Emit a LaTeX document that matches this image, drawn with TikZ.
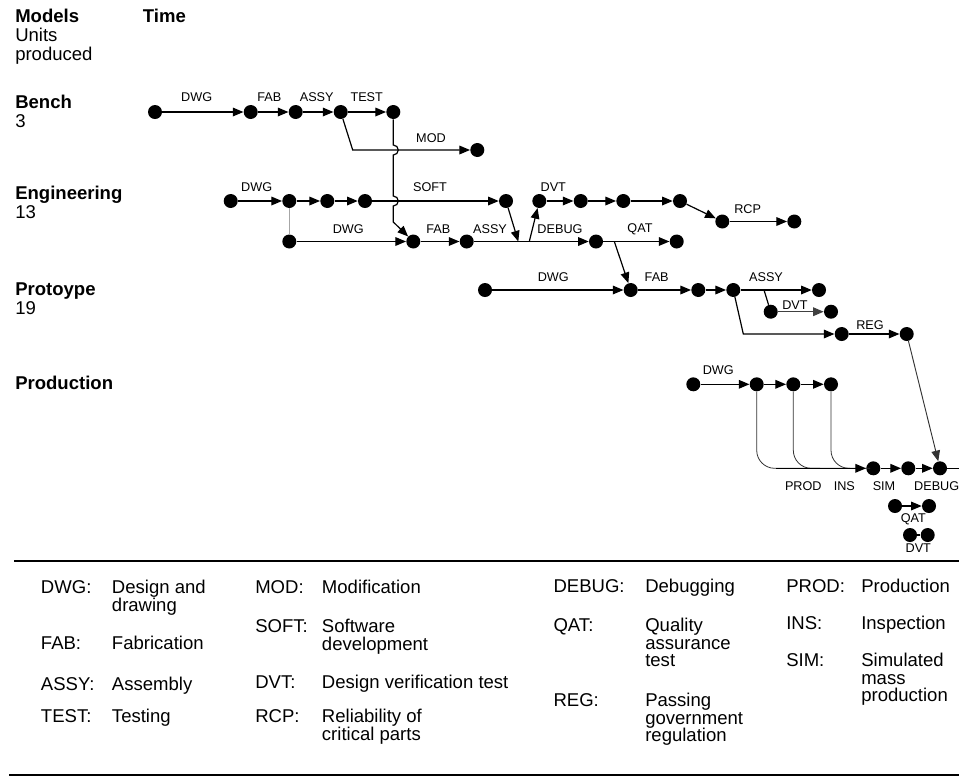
\documentclass[tikz,border=0pt]{standalone}
\usepackage{fontspec}
\setmainfont{Liberation Sans}
\usetikzlibrary{arrows.meta}
\begin{document}
\begin{tikzpicture}[x=0.75pt,y=-0.75pt,
  dot/.style={circle,fill=black,inner sep=0pt,minimum size=10.5pt},
  ln/.style={line width=0.9pt,black},
  arr/.style={ln,-{Triangle[length=8pt,width=6.5pt]}},
  thinln/.style={line width=0.6pt,black!80},
  lbl/.style={font=\fontsize{9.5}{11}\selectfont,inner sep=0pt},
  hdr/.style={font=\fontsize{13.9}{14.2}\selectfont,anchor=base west,align=left,inner sep=0pt},
  leg/.style={font=\fontsize{13.9}{13.2}\selectfont,anchor=base west,align=left,inner sep=0pt},
]
\useasboundingbox (0,0) rectangle (959,776);

% ---------- left headings (base = last line) ----------
\node[hdr] (hModels) at (15,60.5) {\textbf{Models}\\Units\\produced};
\node[hdr] (hTime) at (142.7,22.6) {\textbf{Time}};
\node[hdr] (hBench) at (15,127.2) {\textbf{Bench}\\3};
\node[hdr] (hEng) at (15,218.9) {\textbf{Engineering}\\13};
\node[hdr] (hProto) at (15,314.9) {\textbf{Protoype}\\19};
\node[hdr] (hProd) at (15,389.6) {\textbf{Production}};

% ---------- Bench ----------
\node[dot] (b1) at (155,112) {};
\node[dot] (b2) at (250.7,112) {};
\node[dot] (b3) at (295.7,112) {};
\node[dot] (b4) at (340.7,112) {};
\node[dot] (b5) at (393.3,112) {};
\node[dot] (b6) at (477.3,150) {};
\coordinate (m1) at (352.7,150);
\draw[arr] (b1) -- (b2);
\draw[arr] (b2) -- (b3);
\draw[arr] (b3) -- (b4);
\draw[arr] (b4) -- (b5);
\draw[arr] (b4) -- (m1) -- (b6);
\node[lbl] (lb1) at (196.7,97.3) {DWG};
\node[lbl] (lb2) at (269.3,97.3) {FAB};
\node[lbl] (lb3) at (316.7,97.3) {ASSY};
\node[lbl] (lb4) at (366.7,97.3) {TEST};
\node[lbl] (lb5) at (431,138.3) {MOD};

% ---------- Engineering ----------
\node[dot] (ea1) at (230.7,201) {};
\node[dot] (ea2) at (289.3,201) {};
\node[dot] (ea3) at (327.3,201) {};
\node[dot] (ea4) at (365,201) {};
\node[dot] (es) at (506,201) {};
\node[dot] (ed1) at (539.3,201) {};
\node[dot] (ed2) at (580.7,201) {};
\node[dot] (ed3) at (623.3,201) {};
\node[dot] (ed4) at (680,201) {};
\node[dot] (er1) at (722.3,221.5) {};
\node[dot] (er2) at (794.3,221.5) {};
\node[dot] (el1) at (289.3,241.5) {};
\node[dot] (ef1) at (413.3,241.5) {};
\node[dot] (ef2) at (466.7,241.5) {};
\node[dot] (edb) at (596,241.5) {};
\node[dot] (eq) at (676.7,241.5) {};
\coordinate (j1) at (518.3,241.5);
\coordinate (j2) at (529.3,241.5);
\coordinate (j3) at (614.3,241.5);
\coordinate (h1) at (393.3,145);
\coordinate (h2) at (393.3,196);
\coordinate (h3) at (393.3,222);

\draw[arr] (ea1) -- (ea2);
\draw[arr] (ea2) -- (ea3);
\draw[arr] (ea3) -- (ea4);
\draw[arr] (ea4) -- (es);
\draw[arr] (ed1) -- (ed2);
\draw[arr] (ed2) -- (ed3);
\draw[arr] (ed3) -- (ed4);
\draw[arr] (ed4) -- (er1);
\draw[arr] (er1) -- (er2);
\draw[line width=0.6pt,black!35] (ea2) -- (el1);
\draw[arr] (el1) -- (ef1);
\draw[arr] (ef1) -- (ef2);
\draw[arr] (ef2) -- (edb);
\draw[arr] (es) -- (j1);
\draw[arr] (j2) -- (ed1);
\draw[arr] (edb) -- (eq);
% TEST -> engineering FAB, hopping over MOD and SOFT lines
\draw[arr] (b5) -- (h1) arc[start angle=90,end angle=-90,radius=3.75pt]
  -- (h2) arc[start angle=90,end angle=-90,radius=3.75pt] -- (h3) -- (ef1);

\node[lbl] (le1) at (256.7,187.3) {DWG};
\node[lbl] (le2) at (430,187.3) {SOFT};
\node[lbl] (le3) at (348.3,229.3) {DWG};
\node[lbl] (le4) at (438.3,229.3) {FAB};
\node[lbl] (le5) at (490,229.3) {ASSY};
\node[lbl] (le6) at (553.3,187.3) {DVT};
\node[lbl] (le7) at (560,229.3) {DEBUG};
\node[lbl] (le8) at (640,229.3) {QAT};
\node[lbl] (le9) at (747.7,209.3) {RCP};

% ---------- Prototype ----------
\node[dot] (pp1) at (485,290) {};
\node[dot] (pf) at (630.7,290) {};
\node[dot] (pp3) at (698.3,290) {};
\node[dot] (pp4) at (733.3,290) {};
\node[dot] (pa) at (819,290) {};
\node[dot] (pv1) at (770.7,311.7) {};
\node[dot] (pv2) at (831,311.7) {};
\node[dot] (pg1) at (841.7,334) {};
\node[dot] (pg2) at (906.7,334) {};
\coordinate (k1) at (764,290);
\coordinate (k2) at (743.3,334);
\draw[arr] (j3) -- (pf);
\draw[arr] (pp1) -- (pf);
\draw[arr] (pf) -- (pp3);
\draw[arr] (pp3) -- (pp4);
\draw[arr] (pp4) -- (pa);
\draw[ln] (k1) -- (pv1);
\draw[arr,black!75] (pv1) -- (pv2);
\draw[arr] (pp4) -- (k2) -- (pg1);
\draw[arr] (pg1) -- (pg2);
\node[lbl] (lp1) at (553.3,276.7) {DWG};
\node[lbl] (lp2) at (656.7,276.7) {FAB};
\node[lbl] (lp3) at (766,276.7) {ASSY};
\node[lbl] (lp4) at (795,305) {DVT};
\node[lbl] (lp5) at (870,325) {REG};

% ---------- Production ----------
\node[dot] (d1) at (693.3,384.3) {};
\node[dot] (d2) at (756.7,384.3) {};
\node[dot] (d3) at (793.3,384.3) {};
\node[dot] (d4) at (831,384.3) {};
\node[dot] (s1) at (873.3,468.3) {};
\node[dot] (s2) at (908.3,468.3) {};
\node[dot] (s3) at (940,468.3) {};
\coordinate (c0) at (776,468.3);
\coordinate (c2) at (820,468.3);
\coordinate (c3) at (850,468.3);
\coordinate (c4) at (870,468.3);
\coordinate (send) at (959,468.3);
\draw[arr] (d1) -- (d2);
\draw[arr] (d2) -- (d3);
\draw[arr] (d3) -- (d4);
\draw[thinln,rounded corners=13.5pt] (d2) |- (c2);
\draw[thinln,rounded corners=13.5pt] (d3) |- (c3);
\draw[thinln,rounded corners=13.5pt] (d4) |- (c4);
\draw[arr] (c0) -- (s1);
\draw[arr] (s1) -- (s2);
\draw[arr] (s2) -- (s3);
\draw[ln] (s3) -- (send);
\draw[line width=0.7pt,black!80,-{Triangle[length=8pt,width=6.5pt]}] (pg2) -- (s3);

\node[dot] (t1) at (895,506) {};
\node[dot] (t2) at (929,506) {};
\node[dot] (u1) at (910,535) {};
\node[dot] (u2) at (927.7,535) {};
\draw[arr] (t1) -- (t2);
\draw[ln] (u1) -- (u2);

\node[lbl] (lq1) at (718.3,370) {DWG};
\node[lbl] (lq2) at (803.3,485.7) {PROD};
\node[lbl] (lq3) at (844.3,485.7) {INS};
\node[lbl] (lq4) at (884,485.7) {SIM};
\node[lbl] (lq5) at (936.7,485.7) {DEBUG};
\node[lbl] (lq6) at (913.3,519.3) {QAT};
\node[lbl] (lq7) at (918.3,548.3) {DVT};

% ---------- legend ----------
\coordinate (La) at (14,560.7);
\coordinate (Lb) at (959,560.7);
\coordinate (Lc) at (9,775);
\coordinate (Ld) at (959,775);
\draw[line width=1.5pt] (La) -- (Lb);
\draw[line width=1pt] (Lc) -- (Ld);

\node[leg] (ka1) at (40.7,593.9) {DWG:};
\node[leg] (va1) at (111.7,611.5) {Design and\\drawing};
\node[leg] (ka2) at (40.7,649.3) {FAB:};
\node[leg] (va2) at (111.7,649.3) {Fabrication};
\node[leg] (ka3) at (40.7,690.6) {ASSY:};
\node[leg] (va3) at (111.7,690.6) {Assembly};
\node[leg] (ka4) at (40.7,722.6) {TEST:};
\node[leg] (va4) at (111.7,722.6) {Testing};

\node[leg] (kb1) at (255,593.6) {MOD:};
\node[leg] (vb1) at (321.7,593.6) {Modification};
\node[leg] (kb2) at (255,632.6) {SOFT:};
\node[leg] (vb2) at (321.7,650.2) {Software\\development};
\node[leg] (kb3) at (255,688.3) {DVT:};
\node[leg] (vb3) at (321.7,688.3) {Design verification test};
\node[leg] (kb4) at (255,722.6) {RCP:};
\node[leg] (vb4) at (321.7,740.2) {Reliability of\\critical parts};

\node[leg] (kc1) at (553.3,592.6) {DEBUG:};
\node[leg] (vc1) at (645,592.6) {Debugging};
\node[leg] (kc2) at (553.3,631.6) {QAT:};
\node[leg] (vc2) at (645,666.8) {Quality\\assurance\\test};
\node[leg] (kc3) at (553.3,706.6) {REG:};
\node[leg] (vc3) at (645,741.8) {Passing\\government\\regulation};

\node[leg] (kd1) at (786,592.6) {PROD:};
\node[leg] (vd1) at (861,592.6) {Production};
\node[leg] (kd2) at (786,629.9) {INS:};
\node[leg] (vd2) at (861,629.9) {Inspection};
\node[leg] (kd3) at (786,666.6) {SIM:};
\node[leg] (vd3) at (861,701.8) {Simulated\\mass\\production};
\end{tikzpicture}
\end{document}
